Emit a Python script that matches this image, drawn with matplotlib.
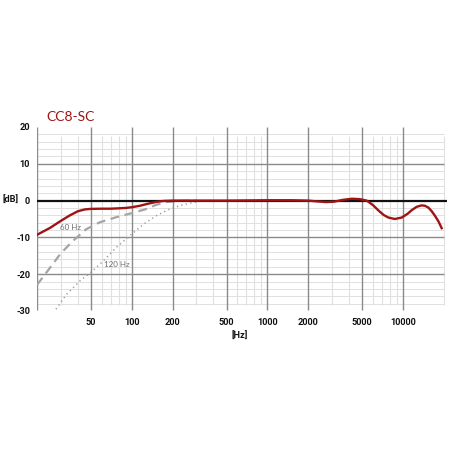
import numpy as np
import matplotlib
matplotlib.use("Agg")
import matplotlib.pyplot as plt

# --- data ---
title = "CC8-SC"
resp_freq = [20, 25, 30, 35, 40, 45, 50, 60, 70, 80, 90, 100, 115, 130, 150, 170, 200,
             300, 500, 1000, 1500, 2000, 2300, 2700, 3100, 3600, 4200, 4800, 5400, 6000,
             6600, 7200, 7800, 8700, 9800, 10800, 11600, 12600, 13700, 14500, 15400,
             16300, 17200, 18300, 19300]
resp_db = [-9.3, -7.4, -5.5, -4.0, -2.9, -2.4, -2.25, -2.2, -2.2, -2.1, -2.0, -1.8, -1.4,
           -0.9, -0.4, -0.1, 0.0, 0.0, 0.0, 0.1, 0.1, 0.0, -0.2, -0.4, -0.3, 0.2, 0.5, 0.4,
           0.0, -1.2, -2.7, -3.9, -4.6, -5.0, -4.6, -3.6, -2.6, -1.7, -1.3, -1.4, -1.9,
           -2.9, -4.1, -5.7, -7.5]
hp60_freq = [20, 25, 30, 37, 46, 58, 77, 100, 125, 150, 180, 220, 300]
hp60_db = [-22.9, -18.2, -14.3, -10.9, -7.8, -5.9, -4.5, -3.4, -2.4, -1.2, -0.4, -0.1, 0.0]
hp120_freq = [27.6, 33, 41.5, 50, 62, 77, 100, 122, 152, 190, 240, 300, 350]
hp120_db = [-29.5, -25.5, -21.8, -19.5, -16.3, -12.7, -9.1, -6.4, -4.1, -2.3, -1.1, -0.3, 0.0]
x_ticks = [50, 100, 200, 500, 1000, 2000, 5000, 10000]
y_ticks = [20, 10, 0, -10, -20, -30]
x_minor = [30, 40, 60, 70, 80, 90, 300, 400, 600, 700, 800, 900,
           3000, 4000, 6000, 7000, 8000, 9000, 20000]
y_minor = [v for v in range(-28, 20, 2) if v % 10 != 0]

plt.rcParams['font.family'] = ['Roboto', 'DejaVu Sans']

fig = plt.figure(figsize=(4.5, 4.5), dpi=100)
ax = fig.add_axes([37/450, 1-311/450, (447-37)/450, (311-127)/450])
ax.set_xscale('log')
ax.set_xlim(20, 21120)
ax.set_ylim(-30, 20)
for s in ax.spines.values():
    s.set_visible(False)

# grid
ax.hlines(y_minor, 20, 20000, color='#e0e0e0', lw=0.7, zorder=1)
ax.vlines(x_minor, -28.5, 17.5, color='#e0e0e0', lw=0.8, zorder=1)
ax.hlines([10, -10, -20], 20, 20000, color='#8a8a8a', lw=1.0, zorder=2)
ax.vlines(x_ticks, -29.8, 20, color='#8a8a8a', lw=1.0, zorder=2)
ax.vlines([20], -29.8, 20, color='#8a8a8a', lw=1.0, zorder=2)

# curves
ax.plot(hp60_freq, hp60_db, color='#a5a5a5', lw=1.6, dashes=(4, 2.5), zorder=3)
ax.plot(hp120_freq, hp120_db, color='#9a9a9a', lw=1.1, dashes=(0.8, 2.2), zorder=3)
ax.axhline(0, color='#111111', lw=1.6, zorder=4)
ax.plot(resp_freq, resp_db, color='#9e1414', lw=1.7, zorder=5, solid_joinstyle='round')

ax.text(29.6, -7.3, "60 Hz", fontsize=5.8, color='#6e6e6e', va='center', ha='left',
        family=['Lato', 'DejaVu Sans'])
ax.text(62, -17.4, "120 Hz", fontsize=5.8, color='#6e6e6e', va='center', ha='left',
        family=['Lato', 'DejaVu Sans'])

ax.set_xticks(x_ticks)
ax.set_xticklabels([str(v) for v in x_ticks])
ax.set_xticks([], minor=True)
ax.set_yticks(y_ticks)
ax.set_yticklabels([str(v) for v in y_ticks])
ax.tick_params(axis='both', length=0, labelsize=6.6, labelcolor='#111111')
ax.tick_params(axis='x', pad=5)
ax.tick_params(axis='y', pad=5)
for lab in ax.get_xticklabels() + ax.get_yticklabels():
    lab.set_fontweight('bold')

fig.text(11/450, 1-200/450, "[dB]", fontsize=6.6, fontweight='bold', color='#111111',
         ha='center', va='center')
fig.text(240/450, 1-336/450, "[Hz]", fontsize=6.6, fontweight='bold', color='#111111',
         ha='center', va='center')
fig.text(46/450, 1-117/450, title, fontsize=10, color='#9e1414', ha='left', va='center',
         family=['Lato', 'DejaVu Sans'])

fig.savefig("out.png", dpi=100, facecolor='white')
